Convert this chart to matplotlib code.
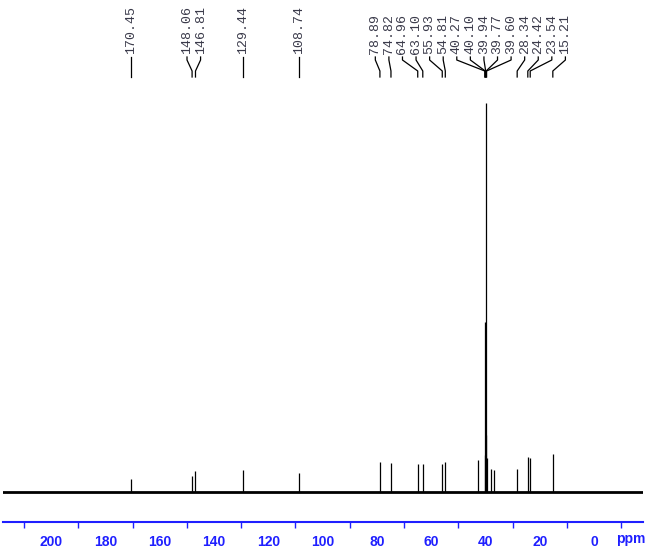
import numpy as np
import matplotlib.pyplot as plt

# labelled peaks (ppm) and stick heights
label_ppm = [170.45, 148.06, 146.81, 129.44, 108.74,
             78.89, 74.82, 64.96, 63.10, 55.93, 54.81,
             40.27, 40.10, 39.94, 39.77, 39.60,
             28.34, 24.42, 23.54, 15.21]
label_height = [13, 16, 21, 22, 19,
                30, 29, 28, 28, 28, 30,
                37, 170, 389, 57, 34,
                23, 35, 34, 38]

# small unlabelled lines
extra_ppm = [42.8, 38.1, 36.9]
extra_height = [32, 23, 22]

blue = '#1f1fff'
spacing = 5.0  # ppm between neighbouring labels


def layout(groups):
    out = []
    for g in groups:
        c = np.mean([label_ppm[j] for j in g])
        out.append([c + ((len(g) - 1) / 2 - k) * spacing for k in range(len(g))])
    return out


# spread the labels: merge groups until no two neighbours overlap
groups = [[i] for i in range(len(label_ppm))]
merged = True
while merged:
    merged = False
    pos = layout(groups)
    for a in range(len(groups) - 1):
        if pos[a][-1] - pos[a + 1][0] < spacing - 1e-9:
            groups[a] = groups[a] + groups.pop(a + 1)
            merged = True
            break

label_x = [0.0] * len(label_ppm)
for g, ps in zip(groups, layout(groups)):
    for j, p in zip(g, ps):
        label_x[j] = p

fig = plt.figure(figsize=(6.57, 5.55), dpi=100)
ax = fig.add_axes([3 / 657, 33 / 555, 640 / 657, 522 / 555])

ax.axhline(0, color='black', lw=2.0, zorder=3)
ax.vlines(label_ppm, 0, label_height, color='black', lw=0.9)
ax.vlines(extra_ppm, 0, extra_height, color='black', lw=0.9)

# label text and connectors
y_top, y_k1, y_k2, y_bot = 435, 432, 421, 415
for p, lx in zip(label_ppm, label_x):
    ax.plot([lx, lx, p, p], [y_top, y_k1, y_k2, y_bot], color='black', lw=0.9)
    ax.text(lx, y_top + 3, f'{p:.2f}', rotation=90, ha='center', va='bottom',
            family='Liberation Mono', fontsize=9.5, color='#3a3a4a')

ax.set_xlim(217.7, -18.0)
ax.set_ylim(-30, 492)
ax.set_xticks(np.arange(0, 201, 20))
ax.set_xticks(np.arange(-10, 211, 20), minor=True)
ax.tick_params(axis='x', which='major', length=0, pad=9,
               labelcolor=blue, labelsize=10)
ax.tick_params(axis='x', which='minor', direction='out', length=4, width=1,
               color=blue)
for lab in ax.get_xticklabels():
    lab.set_fontweight('bold')
    lab.set_family('Liberation Sans')
ax.set_yticks([])
for s in ['top', 'left', 'right']:
    ax.spines[s].set_visible(False)
ax.spines['bottom'].set_color(blue)
ax.spines['bottom'].set_linewidth(1.5)

ax.text(-13.3, -51, 'ppm', ha='center', va='baseline', color=blue,
        fontsize=10, fontweight='bold', family='Liberation Sans', clip_on=False)

fig.savefig('out.png', dpi=100)
